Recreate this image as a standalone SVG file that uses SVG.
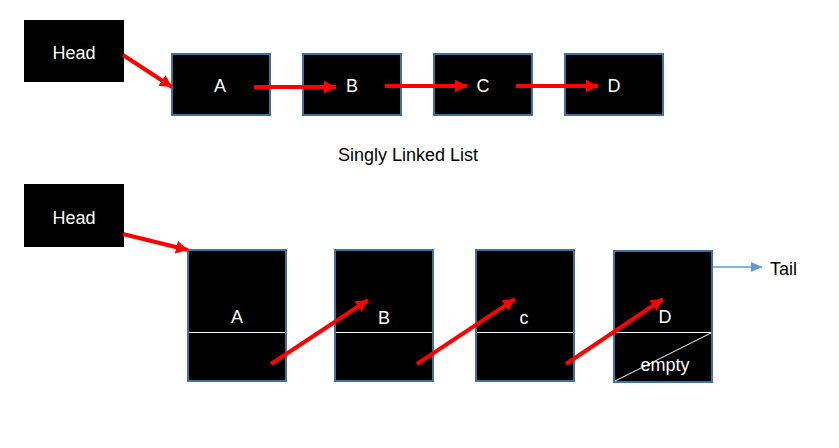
<svg xmlns="http://www.w3.org/2000/svg" width="839" height="448" viewBox="0 0 839 448">
<style>
.head{fill:#000}
.box{fill:#000;stroke:#41719c;stroke-width:2}
.lbl{font-family:"Liberation Sans",Arial,sans-serif;font-size:18px;fill:#fff;text-anchor:middle}
.cap{font-family:"Liberation Sans",Arial,sans-serif;font-size:18px;fill:#000}
.div{stroke:#fff;stroke-width:1}
.red{stroke:#ff0000;stroke-width:4;fill:none;marker-end:url(#ra)}
.blue{stroke:#5b9bd5;stroke-width:1.3;fill:none;marker-end:url(#ba)}
</style>
<defs>
<marker id="ra" markerUnits="userSpaceOnUse" markerWidth="14" markerHeight="14" refX="12" refY="6.5" orient="auto">
<path d="M0,0 L12,6.5 L0,13 z" fill="#ff0000"/>
</marker>
<marker id="ba" markerUnits="userSpaceOnUse" markerWidth="14" markerHeight="12" refX="11" refY="5" orient="auto">
<path d="M0,0 L11,5 L0,10 z" fill="#5b9bd5"/>
</marker>
</defs>
<rect width="839" height="448" fill="#fff"/>

<g id="head1"><rect class="head" x="24" y="20" width="100" height="62"/><text class="lbl" x="74" y="59">Head</text></g>
<g id="a1"><rect class="box" x="172" y="54" width="98" height="61"/><text class="lbl" x="220" y="92">A</text></g>
<g id="b1"><rect class="box" x="303" y="54" width="98" height="61"/><text class="lbl" x="352" y="92">B</text></g>
<g id="c1"><rect class="box" x="434" y="54" width="98" height="61"/><text class="lbl" x="483" y="92">C</text></g>
<g id="d1"><rect class="box" x="565" y="54" width="98" height="61"/><text class="lbl" x="614" y="92">D</text></g>

<g id="caption"><text class="cap" x="408" y="161" text-anchor="middle" font-size="19.5">Singly Linked List</text></g>

<g id="head2"><rect class="head" x="24" y="184" width="100" height="63"/><text class="lbl" x="74" y="224">Head</text></g>
<g id="a2"><rect class="box" x="188" y="250" width="98" height="131"/><line class="div" x1="189" y1="332.5" x2="285" y2="332.5"/><text class="lbl" x="237" y="323">A</text></g>
<g id="b2"><rect class="box" x="335" y="250" width="98" height="131"/><line class="div" x1="336" y1="332.5" x2="432" y2="332.5"/><text class="lbl" x="384" y="324">B</text></g>
<g id="c2"><rect class="box" x="476" y="250" width="98" height="131"/><line class="div" x1="477" y1="332.5" x2="573" y2="332.5"/><text class="lbl" x="524" y="324">c</text></g>
<g id="d2"><rect class="box" x="614" y="251" width="98" height="131"/><line class="div" x1="615" y1="332.5" x2="711" y2="332.5"/><line class="div" x1="615" y1="381" x2="711" y2="333"/><text class="lbl" x="665" y="323">D</text><text class="lbl" x="665" y="371" font-size="13">empty</text></g>
<g id="tail"><text class="cap" x="770" y="275">Tail</text></g>

<g id="connectors">
<line class="red" x1="123" y1="55" x2="172" y2="87"/>
<line class="red" x1="254" y1="87" x2="336" y2="87"/>
<line class="red" x1="385" y1="86" x2="467" y2="86"/>
<line class="red" x1="516" y1="86" x2="598" y2="86"/>
<line class="red" x1="123" y1="234" x2="188" y2="250"/>
<line class="red" x1="271" y1="364" x2="368" y2="300"/>
<line class="red" x1="417" y1="364" x2="515" y2="299"/>
<line class="red" x1="566" y1="364" x2="663" y2="299"/>
<line class="blue" x1="713" y1="267" x2="762" y2="267"/>
</g>
</svg>
